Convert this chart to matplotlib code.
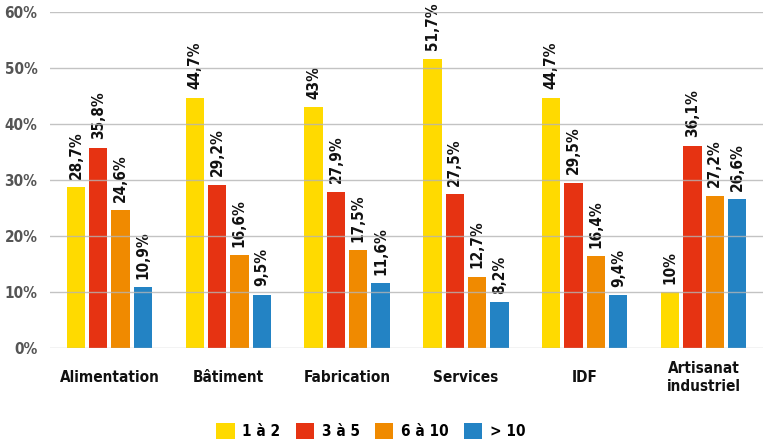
import matplotlib
matplotlib.use("Agg")
import matplotlib.pyplot as plt
import numpy as np
from matplotlib.patches import Patch

categories = ["Alimentation", "Bâtiment", "Fabrication", "Services", "IDF", "Artisanat\nindustriel"]
series_names = ["1 à 2", "3 à 5", "6 à 10", "> 10"]
s1 = [28.7, 44.7, 43.0, 51.7, 44.7, 10.0]
s2 = [35.8, 29.2, 27.9, 27.5, 29.5, 36.1]
s3 = [24.6, 16.6, 17.5, 12.7, 16.4, 27.2]
s4 = [10.9, 9.5, 11.6, 8.2, 9.4, 26.6]
labels1 = ["28,7%", "44,7%", "43%", "51,7%", "44,7%", "10%"]
labels2 = ["35,8%", "29,2%", "27,9%", "27,5%", "29,5%", "36,1%"]
labels3 = ["24,6%", "16,6%", "17,5%", "12,7%", "16,4%", "27,2%"]
labels4 = ["10,9%", "9,5%", "11,6%", "8,2%", "9,4%", "26,6%"]
colors = ["#FFDA00", "#E63312", "#F08A00", "#2383C4"]

yticks = [0, 10, 20, 30, 40, 50, 60]

FONT = dict(family="DejaVu Sans", stretch="condensed", weight="bold")

fig = plt.figure(figsize=(7.63, 4.47), dpi=100)
ax = fig.add_axes([0.0655, 0.2215, 0.9345, 0.7515])

x = np.arange(len(categories))
step = 0.188
width = 0.154
series = [s1, s2, s3, s4]
labs = [labels1, labels2, labels3, labels4]
for i, (vals, lb, c) in enumerate(zip(series, labs, colors)):
    pos = x + (i - 1.5) * step
    ax.bar(pos, vals, width=width, color=c, zorder=2)
    for p, v, t in zip(pos, vals, lb):
        ax.text(p, v + 1.5, t, rotation=90, ha="center", va="bottom",
                fontsize=11, color="#111111", **FONT)

ax.set_xlim(-0.5, len(categories) - 0.5)
ax.set_ylim(0, 60)
ax.set_yticks(yticks)
ax.set_yticklabels([f"{t}%" for t in yticks], fontsize=11, color="#555555", **FONT)
for t in yticks:
    ax.axhline(t, color="#b4b4b4", lw=1.0, zorder=3, alpha=0.8)
ax.set_xticks(x)
ax.set_xticklabels(categories, fontsize=11, color="#111111", linespacing=1.25,
                   va="center", **FONT)
ax.tick_params(axis="x", length=0, pad=21.5)
ax.tick_params(axis="y", length=0, pad=9)
for s in ax.spines.values():
    s.set_visible(False)

handles = [Patch(facecolor=c, label=n) for c, n in zip(colors, series_names)]
leg = fig.legend(handles=handles, loc="center", bbox_to_anchor=(0.486, 0.036), ncol=4,
                 frameon=False, handlelength=1.2, handleheight=1.2, handletextpad=0.5,
                 columnspacing=1.0, prop=dict(size=11, **FONT))

fig.savefig("out.png", dpi=100)
